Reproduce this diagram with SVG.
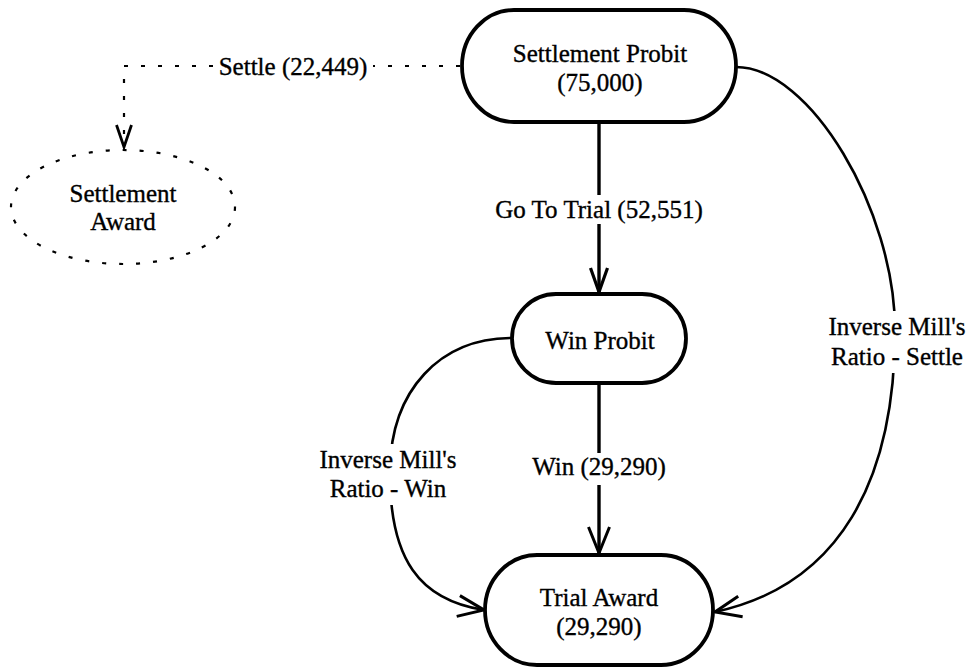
<svg xmlns="http://www.w3.org/2000/svg" width="972" height="668" viewBox="0 0 972 668">
  <style>
    .node { fill: #fff; stroke: #000; stroke-width: 3.8; }
    .dnode { fill: none; stroke: #000; stroke-width: 2.2; stroke-dasharray: 4 13; }
    .t { font-family: "Liberation Serif", "Times New Roman", serif; font-size: 25px; fill: #000; text-anchor: middle; stroke: #000; stroke-width: 0.35; }
    .bg { fill: #fff; stroke: none; }
    .edge { fill: none; stroke: #000; }
    .solid { stroke-width: 3.4; }
    .curve { stroke-width: 2.6; }
    .dash { stroke-width: 2.2; stroke-dasharray: 4 13; }
  </style>
  <defs>
    <marker id="arrow" markerUnits="userSpaceOnUse" viewBox="-30 -15 32 30" refX="0" refY="0" markerWidth="32" markerHeight="30" orient="auto">
      <path d="M-26,-10.5 L0,0 L-26,10.5" fill="none" stroke="#000" stroke-width="3" stroke-dasharray="none"/>
    </marker>
    <marker id="arrowNarrow" markerUnits="userSpaceOnUse" viewBox="-30 -15 32 30" refX="0" refY="0" markerWidth="32" markerHeight="30" orient="auto">
      <path d="M-24,-8.5 L0,0 L-24,8.5" fill="none" stroke="#000" stroke-width="3.2" stroke-dasharray="none"/>
    </marker>
    <marker id="arrowSmall" markerUnits="userSpaceOnUse" viewBox="-30 -15 32 30" refX="0" refY="0" markerWidth="32" markerHeight="30" orient="auto">
      <path d="M-22,-7.5 L0,0 L-22,7.5" fill="none" stroke="#000" stroke-width="2.8" stroke-dasharray="none"/>
    </marker>
  </defs>

  <g id="connectors">
    <!-- Settle (dashed) -->
    <path class="edge dash" d="M460,66 H373"/>
    <path class="edge dash" d="M213,66 H124 V147" marker-end="url(#arrowSmall)"/>
    <text class="t" x="293" y="75">Settle (22,449)</text>

    <!-- Go To Trial -->
    <path class="edge solid" d="M599,122 V195"/>
    <path class="edge solid" d="M599,224 V292" marker-end="url(#arrowNarrow)"/>
    <text class="t" x="599" y="218">Go To Trial (52,551)</text>

    <!-- Win -->
    <path class="edge solid" d="M599,383 V453"/>
    <path class="edge solid" d="M599,485 V553" marker-end="url(#arrow)"/>
    <text class="t" x="599" y="475">Win (29,290)</text>

    <!-- Inverse Mill's Ratio - Win -->
    <path class="edge curve" d="M512,338 C440,338 391,390 390,470 C389,560 420,600 484,610" marker-end="url(#arrow)"/>
    <rect class="bg" x="316" y="444" width="144" height="61"/>
    <text class="t" x="388" y="468">Inverse Mill's</text>
    <text class="t" x="388" y="497">Ratio - Win</text>

    <!-- Inverse Mill's Ratio - Settle -->
    <path class="edge curve" d="M736,67 C810,67 895,210 895,330 C895,480 840,585 715,612" marker-end="url(#arrow)"/>
    <rect class="bg" x="824" y="311" width="148" height="62"/>
    <text class="t" x="897" y="335">Inverse Mill's</text>
    <text class="t" x="897" y="365">Ratio - Settle</text>
  </g>

  <g id="settlement-probit">
    <rect class="node" x="462" y="10" width="274" height="112" rx="52" ry="56"/>
    <text class="t" x="600" y="62">Settlement Probit</text>
    <text class="t" x="600" y="91">(75,000)</text>
  </g>

  <g id="settlement-award">
    <ellipse class="dnode" cx="123" cy="207" rx="112" ry="57"/>
    <text class="t" x="123" y="202">Settlement</text>
    <text class="t" x="123" y="230">Award</text>
  </g>

  <g id="win-probit">
    <rect class="node" x="512" y="294" width="174" height="89" rx="44" ry="44.5"/>
    <text class="t" x="600" y="349">Win Probit</text>
  </g>

  <g id="trial-award">
    <rect class="node" x="485" y="555" width="228" height="110" rx="52" ry="55"/>
    <text class="t" x="599" y="606">Trial Award</text>
    <text class="t" x="599" y="635">(29,290)</text>
  </g>
</svg>
